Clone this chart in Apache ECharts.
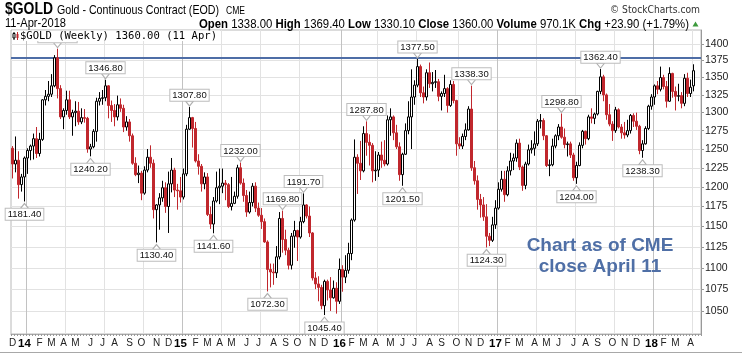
<!DOCTYPE html>
<html><head><meta charset="utf-8">
<script src="https://cdn.jsdelivr.net/npm/echarts@6/dist/echarts.min.js"></script>
<style>html,body{margin:0;padding:0;background:#fff}#c{width:742px;height:357px}</style>
</head><body><div id="c"></div>
<script>
// ---- weekly categories: Fridays from 2013-12-06 (holiday week re-dated) ----
const firstWeek = [2013, 11, 6];
const dateOverrides = {108: '2015-12-31'};
const padWeeks = 2;

// ---- weekly OHLC (COMEX gold continuous) ----
const opens = [
 1251,1230,1235,1203,1213, 1238,1248,1254,1264,1244, 1263,1318,1323,1326,1338, 1379,1334,1294,1303,1318,
 1294,1300,1302,1287,1293, 1292,1250,1253,1274,1316, 1320,1321,1338,1310,1303, 1294,1311,1306,1280,1287,
 1268,1231,1216,1218,1192, 1222,1239,1231,1171,1177, 1186,1199,1175,1204,1222, 1196,1195,1187,1217,1277,
 1293,1278,1234,1227,1204, 1213,1165,1153,1182,1199, 1201,1205,1203,1175,1179, 1188,1225,1205,1189,1168,
 1180,1201,1173,1164,1156, 1131,1098,1095,1094,1113, 1160,1134,1121,1103,1138, 1145,1137,1156,1177,1163,
 1142,1088,1081,1077,1056, 1084,1074,1065,1076,1061, 1098,1089,1097,1117,1158, 1239,1231,1221,1271,1259,
 1255,1221,1222,1242,1235, 1230,1290,1294,1272,1253, 1216,1243,1275,1294,1322, 1339,1366,1328,1322,1357,
 1341,1343,1344,1323,1327, 1334,1310,1340,1317,1257, 1254,1267,1276,1305,1225, 1208,1184,1177,1162,1138,
 1133,1152,1173,1197,1210, 1190,1221,1234,1238,1258, 1226,1202,1230,1249,1251, 1257,1288,1289,1268,1228,
 1229,1254,1268,1280,1266, 1256,1257,1242,1212,1228, 1255,1274,1264,1294,1292, 1298,1330,1351,1325,1297,
 1284,1275,1304,1280,1272, 1269,1275,1296,1288,1281, 1248,1257,1278,1309,1322, 1338,1333,1350,1337,1316,
 1356,1330,1323,1324,1313, 1349,1327,1338
];
const closes = [
 1230,1235,1203,1213,1238, 1248,1254,1264,1244,1263, 1318,1323,1326,1338,1379, 1334,1294,1303,1318,1294,
 1300,1302,1287,1293,1292, 1250,1253,1274,1316,1320, 1321,1338,1310,1303,1294, 1311,1306,1280,1287,1268,
 1231,1216,1218,1192,1222, 1239,1231,1171,1177,1186, 1199,1175,1204,1222,1196, 1195,1187,1217,1277,1293,
 1278,1234,1227,1204,1213, 1165,1153,1182,1199,1201, 1205,1203,1175,1179,1188, 1225,1205,1189,1168,1180,
 1201,1173,1164,1156,1131, 1098,1095,1094,1113,1160, 1134,1121,1103,1138,1145, 1137,1156,1177,1163,1142,
 1088,1081,1077,1056,1084, 1074,1065,1076,1061,1098, 1089,1097,1117,1158,1239, 1231,1221,1271,1259,1255,
 1221,1222,1242,1235,1230, 1290,1294,1272,1253,1216, 1243,1275,1294,1322,1339, 1366,1328,1322,1357,1341,
 1343,1344,1323,1327,1334, 1310,1340,1317,1257,1254, 1267,1276,1305,1225,1208, 1184,1177,1162,1138,1133,
 1152,1173,1197,1210,1190, 1221,1234,1238,1258,1226, 1202,1230,1249,1251,1257, 1288,1289,1268,1228,1229,
 1254,1268,1280,1266,1256, 1257,1242,1212,1228,1255, 1274,1264,1294,1292,1298, 1330,1351,1325,1297,1284,
 1275,1304,1280,1272,1269, 1275,1296,1288,1281,1248, 1257,1278,1309,1322,1338, 1333,1350,1337,1316,1356,
 1330,1323,1324,1313,1349, 1327,1336,1360
];
const lows = [
 1211,1219,1185,1194,1181.4, 1217,1235,1236,1238,1240, 1261,1310,1316,1322,1336, 1320,1291,1277,1297,1291,
 1268,1281,1283,1284,1286, 1245,1240.2,1251,1260,1310, 1311,1316,1292,1287,1281, 1289,1301,1273,1275,1260,
 1229,1214,1205,1183,1190, 1219,1225,1160,1130.4,1146, 1181,1167,1142,1193,1187, 1171,1180,1184,1214,1276,
 1252,1232,1216,1194,1197, 1163,1147,1141.6,1180,1178, 1192,1183,1173,1170,1178, 1185,1203,1181,1162,1166,
 1175,1168,1162,1147,1130, 1072.3,1077,1080,1088,1110, 1118,1115,1098,1098,1124, 1108,1135,1154,1160,1137,
 1085,1075,1061,1052,1045.4, 1062,1050,1064,1047,1058, 1072,1082,1093,1109,1156, 1191,1209,1219,1241,1228,
 1206,1208,1213,1225,1227, 1228,1268,1262,1250,1208, 1201.5,1242,1270,1250,1311, 1336,1322,1313,1317,1335,
 1330,1335,1316,1303,1322, 1300,1308,1313,1241,1250, 1250,1262,1275,1221,1203, 1171,1161,1157,1124.3,1126,
 1131,1147,1171,1194,1181, 1188,1215,1222,1233,1222, 1195,1197,1228,1244,1241, 1254,1278,1262,1226,1214,
 1227,1251,1262,1264,1251, 1240,1238,1208,1204,1227, 1251,1256,1262,1285,1284, 1296,1326,1316,1290,1281,
 1261,1272,1278,1264,1264, 1266,1271,1280,1276,1243, 1238.3,1256,1276,1304,1311, 1326,1330,1333,1307,1315,
 1321,1303,1316,1306,1309, 1322,1322,1330.1
];
const highs = [
 1254,1267,1247,1217,1240, 1251,1256,1271,1280,1272, 1319,1332,1345,1355,1383, 1392.6,1339,1306,1331,1331,
 1304,1316,1315,1306,1305, 1294,1257,1277,1321,1329, 1332,1346.8,1339,1317,1312, 1324,1320,1311,1295,1291,
 1271,1239,1228,1221,1227, 1250,1255,1236,1178,1192, 1208,1206,1220,1238,1225, 1204,1213,1224,1283,1307.8,
 1294,1287,1243,1230,1219, 1218,1175,1187,1220,1224, 1224,1209,1205,1213,1194, 1229,1232,1211,1196,1194,
 1205,1206,1180,1173,1160, 1133,1105,1105,1126,1168, 1169.8,1146,1124,1142,1157, 1146,1162,1191.7,1178,1175,
 1143,1095,1090,1080,1086, 1086,1089,1085,1083,1111, 1103,1115,1130,1160,1263, 1243,1261,1281,1287.8,1270,
 1258,1247,1246,1260,1262, 1296,1306,1296,1283,1259, 1245,1285,1316,1362,1346, 1377.5,1369,1337,1362,1372,
 1358,1361,1348,1330,1354, 1336,1346,1345,1318,1266, 1271,1285,1309,1338.3,1234, 1215,1191,1187,1178,1142,
 1162,1183,1206,1221,1221, 1227,1245,1244,1263,1264, 1228,1233,1256,1262,1274, 1291,1298,1292,1269,1236,
 1264,1270,1284,1298.8,1278, 1260,1260,1245,1233,1259, 1276,1275,1297,1306,1300, 1331,1362.4,1354,1327,1312,
 1288,1308,1306,1284,1287, 1290,1298,1299,1300,1283, 1262,1281,1311,1326,1340, 1345,1366,1354,1345,1365,
 1357,1337,1341,1329,1355, 1357,1347,1369.4
];

// ---- annotated swing points (week indices) ----
const peakWeeks = [15, 31, 59, 76, 90, 97, 118, 135, 153, 183, 196];
const troughWeeks = [4, 26, 48, 67, 85, 104, 130, 158, 188, 210];

// ---- axis ticks / labels ----
const yTicks = [1050,1075,1100,1125,1150,1175,1200,1225,1250,1275,1300,1325,1350,1375,1400];
const monthLetters = ['J','F','M','A','M','J','J','A','S','O','N','D'];
const quarterMonths = [4, 7, 10];
const resistanceLevel = 1379;

// ---- texts ----
const headerSymbol = '$GOLD';
const headerName = 'Gold - Continuous Contract (EOD)';
const headerExch = 'CME';
const headerDate = '11-Apr-2018';
const quoteParts = [['Open','1338.00'],['High','1369.40'],['Low','1330.10'],['Close','1360.00'],['Volume','970.1K'],['Chg','+23.90 (+1.79%)']];
const legendText = '$GOLD (Weekly) 1360.00 (11 Apr)';
const copyrightText = '\u00a9 StockCharts.com';
const noteLines = ['Chart as of CME', 'close April 11'];

// ---------------------------------------------------------------
const N = opens.length;
const weeks = [];
const t0 = Date.UTC(firstWeek[0], firstWeek[1], firstWeek[2]);
for (let i = 0; i < N; i++) {
  weeks.push(dateOverrides[i] || new Date(t0 + i * 7 * 86400000).toISOString().slice(0, 10));
}
for (let k = 0; k < padWeeks; k++) weeks.push('pad' + k);
const monthOf = i => (i >= 0 && i < N) ? +weeks[i].slice(5, 7) : -1;
const isMonthStart = i => i >= 0 && i < N && (i === 0 || monthOf(i) !== monthOf(i - 1));

const ohlc = opens.map((o, i) => [o, closes[i], lows[i], highs[i]]);

const SANS = '"Liberation Sans", Arial, sans-serif';
const MONO = '"DejaVu Sans Mono", monospace';
const VERD = '"DejaVu Sans", sans-serif';
const RED = '#c0272d';

// text width fitting (the original uses a narrow face; emulate with horizontal scaling)
const mctx = document.createElement('canvas').getContext('2d');
function textW(font, text) { mctx.font = font; return mctx.measureText(text).width; }
function fitScale(font, text, target) { return target / textW(font, text); }

const F_SYM = 'bold 17px ' + SANS;
const F_NAME = '13px ' + SANS;
const F_EXCH = '10px ' + SANS;
const F_DATE = '13px ' + SANS;
const F_QB = 'bold 13px ' + SANS;
const F_QN = '13px ' + SANS;
const F_COPY = '10px ' + VERD;
const F_LEG = '11px ' + MONO;

let quoteRich = '', quoteWidth = 0;
quoteParts.forEach((p, k) => {
  const tail = ' ' + p[1] + (k < quoteParts.length - 1 ? ' ' : '');
  quoteRich += '{b|' + p[0] + '}' + tail;
  quoteWidth += textW(F_QB, p[0]) + textW(F_QN, tail);
});

const markData = [];
peakWeeks.forEach(i => markData.push({
  coord: [weeks[i], highs[i]], value: highs[i].toFixed(2),
  symbolRotate: 180, symbolOffset: [0, -3.5],
  label: { position: 'top', distance: 0 }
}));
troughWeeks.forEach(i => markData.push({
  coord: [weeks[i], lows[i]], value: lows[i].toFixed(2),
  symbolRotate: 0, symbolOffset: [0, 4.5],
  label: { position: 'bottom', distance: 0 }
}));

const chart = echarts.init(document.getElementById('c'), null, { renderer: 'canvas' });

chart.setOption({
  animation: false,
  backgroundColor: '#fff',
  textStyle: { fontFamily: SANS },
  grid: { left: 11, top: 30, width: 690, height: 304, show: true, borderColor: '#b8b8b8', borderWidth: 1, backgroundColor: '#fff' },
  xAxis: [{
    type: 'category', data: weeks, boundaryGap: true, position: 'bottom',
    axisLine: { show: true, onZero: false, lineStyle: { color: '#aaa' } },
    axisTick: { show: true, interval: 0, length: 2, lineStyle: { color: '#999' } },
    axisLabel: {
      interval: (idx) => isMonthStart(idx),
      formatter: (v) => {
        const m = +v.slice(5, 7);
        return m === 1 ? '{y|' + v.slice(2, 4) + '}' : monthLetters[m - 1];
      },
      margin: 4, fontSize: 10, color: '#222', fontFamily: SANS,
      rich: { y: { fontWeight: 'bold', fontSize: 11.5, color: '#000', fontFamily: SANS } }
    },
    splitLine: { show: true, interval: (idx) => isMonthStart(idx - 1) && quarterMonths.includes(monthOf(idx - 1)), lineStyle: { color: '#e2e2e2' } }
  }, {
    type: 'category', data: weeks, boundaryGap: true, position: 'bottom', show: true,
    axisLine: { show: false }, axisTick: { show: false }, axisLabel: { show: false },
    splitLine: { show: true, interval: (idx) => isMonthStart(idx - 1) && monthOf(idx - 1) === 1, lineStyle: { color: '#c2c2c2' } }
  }],
  yAxis: {
    type: 'log', logBase: 10, min: 1024.3, max: 1420.9, position: 'right',
    axisLine: { show: true, lineStyle: { color: '#999' } },
    axisTick: { show: true, length: 3, customValues: yTicks, lineStyle: { color: '#999' } },
    axisLabel: { customValues: yTicks, formatter: v => String(Math.round(v)), color: '#222', fontSize: 10.5, margin: 4, fontFamily: SANS },
    splitLine: { show: true, lineStyle: { color: '#e2e2e2' } }
  },
  series: [{
    type: 'candlestick', xAxisIndex: 0, yAxisIndex: 0, data: ohlc, barWidth: '82%',
    itemStyle: { color: '#ffffff', color0: RED, borderColor: '#000', borderColor0: RED, borderWidth: 1 },
    markLine: {
      silent: true, z: 1, symbol: ['none', 'none'], label: { show: false },
      lineStyle: { color: '#4e6da6', width: 2, type: 'solid' },
      data: [{ yAxis: resistanceLevel }]
    },
    markPoint: {
      silent: true, symbol: 'triangle', symbolSize: [8, 5],
      itemStyle: { color: '#fff', borderColor: '#b0b0b0', borderWidth: 1 },
      label: { show: true, color: '#111', fontSize: 9.5, fontFamily: SANS, backgroundColor: '#fff', borderColor: '#bdbdbd', borderWidth: 1, padding: [1, 2, 0, 2], lineHeight: 10 },
      data: markData
    }
  }],
  graphic: [
    { type: 'text', x: 5, y: 9.5, z: 100, scaleX: fitScale(F_SYM, headerSymbol, 48),
      style: { text: headerSymbol, font: F_SYM, fill: '#000', verticalAlign: 'middle' } },
    { type: 'text', x: 57, y: 10.5, z: 100, scaleX: fitScale(F_NAME, headerName, 162),
      style: { text: headerName, font: F_NAME, fill: '#000', verticalAlign: 'middle' } },
    { type: 'text', x: 226, y: 11.5, z: 100, scaleX: fitScale(F_EXCH, headerExch, 19),
      style: { text: headerExch, font: F_EXCH, fill: '#000', verticalAlign: 'middle' } },
    { type: 'text', x: 700, y: 10.7, z: 100, scaleX: fitScale(F_COPY, copyrightText, 90),
      style: { text: copyrightText, font: F_COPY, fill: '#333', align: 'right', verticalAlign: 'middle' } },
    { type: 'text', x: 5, y: 23.7, z: 100, scaleX: fitScale(F_DATE, headerDate, 61),
      style: { text: headerDate, font: F_DATE, fill: '#000', verticalAlign: 'middle' } },
    { type: 'text', x: 689, y: 24, z: 100, scaleX: 490 / quoteWidth,
      style: { text: quoteRich, font: F_QN, fill: '#000', align: 'right', verticalAlign: 'middle',
        rich: { b: { font: F_QB } } } },
    { type: 'polygon', z: 100, shape: { points: [[692.5, 26.5], [698.5, 26.5], [695.5, 21.5]] }, style: { fill: '#3c9a3c' } },
    { type: 'rect', z: 100, shape: { x: 12, y: 30.5, width: 208, height: 10.5 }, style: { fill: '#fff' } },
    { type: 'line', z: 101, shape: { x1: 14, y1: 32, x2: 14, y2: 40 }, style: { stroke: '#000', lineWidth: 1 } },
    { type: 'rect', z: 102, shape: { x: 13, y: 33.5, width: 2, height: 4.5 }, style: { fill: '#fff', stroke: '#000', lineWidth: 1 } },
    { type: 'line', z: 101, shape: { x1: 17.5, y1: 32, x2: 17.5, y2: 40 }, style: { stroke: RED, lineWidth: 1 } },
    { type: 'rect', z: 102, shape: { x: 16.5, y: 34, width: 2, height: 4 }, style: { fill: RED } },
    { type: 'text', x: 20, y: 36, z: 101, scaleX: fitScale(F_LEG, legendText, 197),
      style: { text: legendText, font: F_LEG, fill: '#000', verticalAlign: 'middle' } },
    { type: 'text', x: 600, y: 246, z: 100, style: { text: noteLines[0], font: 'bold 19px ' + SANS, fill: '#4f6fa6', align: 'center', verticalAlign: 'middle' } },
    { type: 'text', x: 600, y: 267, z: 100, style: { text: noteLines[1], font: 'bold 19px ' + SANS, fill: '#4f6fa6', align: 'center', verticalAlign: 'middle' } },
    { type: 'line', z: 100, shape: { x1: 0, y1: 352.5, x2: 742, y2: 352.5 }, style: { stroke: '#a8a8a8', lineWidth: 1 } }
  ]
});
</script>
</body></html>
